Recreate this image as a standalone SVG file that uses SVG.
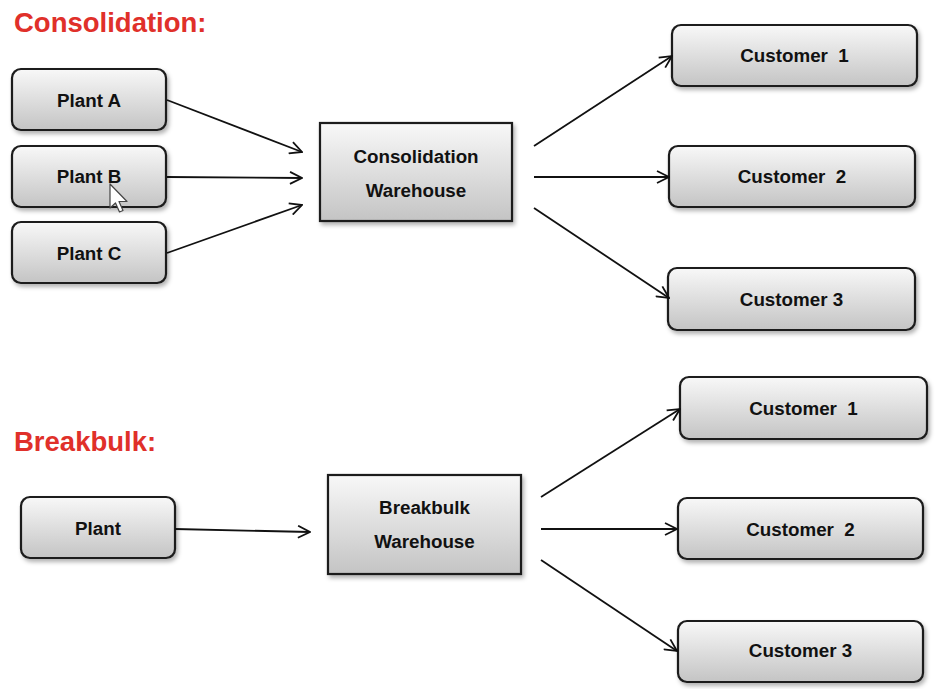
<svg xmlns="http://www.w3.org/2000/svg" width="936" height="689" viewBox="0 0 936 689">
<defs>
<linearGradient id="g" x1="0" y1="0" x2="0" y2="1">
<stop offset="0" stop-color="#f8f8f8"/>
<stop offset="1" stop-color="#c4c4c4"/>
</linearGradient>
<filter id="sh" x="-10%" y="-10%" width="130%" height="140%">
<feDropShadow dx="2" dy="3" stdDeviation="2" flood-color="#000" flood-opacity="0.3"/>
</filter>
<marker id="ah" viewBox="0 0 14 14" refX="13" refY="7" markerWidth="14" markerHeight="14" markerUnits="userSpaceOnUse" orient="auto">
<path d="M1,1 L13,7 L1,13" fill="none" stroke="#111" stroke-width="1.8" stroke-linejoin="miter"/>
</marker>
</defs>
<style>
.title{font-family:"Liberation Sans",Arial,sans-serif;font-weight:bold;font-size:27.5px;fill:#e0302a}
.box{fill:url(#g);stroke:#1a1a1a;stroke-width:2.2;filter:url(#sh)}
.lbl{font-family:"Liberation Sans",Arial,sans-serif;font-weight:bold;font-size:18.8px;fill:#111;text-anchor:middle}
.con{stroke:#111;stroke-width:1.8;fill:none;marker-end:url(#ah)}
</style>
<rect width="936" height="689" fill="#fff"/>
<text class="title" x="14" y="32">Consolidation:</text>
<text class="title" x="14" y="451">Breakbulk:</text>

<g id="plantA"><rect class="box" x="12" y="69" width="154" height="61" rx="9"/><text class="lbl" x="89" y="107">Plant A</text></g>
<g id="plantB"><rect class="box" x="12" y="146" width="154" height="61" rx="9"/><text class="lbl" x="89" y="183">Plant B</text></g>
<g id="plantC"><rect class="box" x="12" y="222" width="154" height="61" rx="9"/><text class="lbl" x="89" y="260">Plant C</text></g>
<g id="consWarehouse"><rect class="box" x="320" y="123" width="192" height="98"/><text class="lbl" x="416" y="163">Consolidation</text><text class="lbl" x="416" y="197">Warehouse</text></g>
<g id="cust1a"><rect class="box" x="672" y="25" width="245" height="61" rx="9"/><text class="lbl" x="794.5" y="62" xml:space="preserve">Customer  1</text></g>
<g id="cust2a"><rect class="box" x="669" y="146" width="246" height="61" rx="9"/><text class="lbl" x="792" y="183" xml:space="preserve">Customer  2</text></g>
<g id="cust3a"><rect class="box" x="668" y="268" width="247" height="62" rx="9"/><text class="lbl" x="791.5" y="306">Customer 3</text></g>

<g id="plant"><rect class="box" x="21" y="497" width="154" height="61" rx="9"/><text class="lbl" x="98" y="535">Plant</text></g>
<g id="bbWarehouse"><rect class="box" x="328" y="475" width="193" height="99"/><text class="lbl" x="424.5" y="514">Breakbulk</text><text class="lbl" x="424.5" y="548">Warehouse</text></g>
<g id="cust1b"><rect class="box" x="680" y="377" width="247" height="62" rx="9"/><text class="lbl" x="803.5" y="415" xml:space="preserve">Customer  1</text></g>
<g id="cust2b"><rect class="box" x="678" y="498" width="245" height="61" rx="9"/><text class="lbl" x="800.5" y="536" xml:space="preserve">Customer  2</text></g>
<g id="cust3b"><rect class="box" x="678" y="621" width="245" height="61" rx="9"/><text class="lbl" x="800.5" y="657">Customer 3</text></g>

<g id="connectors">
<line class="con" x1="167" y1="100" x2="302" y2="152"/>
<line class="con" x1="167" y1="177" x2="302" y2="178"/>
<line class="con" x1="167" y1="253" x2="302" y2="205"/>
<line class="con" x1="534" y1="146" x2="672" y2="56"/>
<line class="con" x1="534" y1="177" x2="669" y2="177"/>
<line class="con" x1="534" y1="208" x2="669" y2="298"/>
<line class="con" x1="175" y1="529" x2="310" y2="532"/>
<line class="con" x1="541" y1="497" x2="680" y2="409"/>
<line class="con" x1="541" y1="529" x2="677" y2="529"/>
<line class="con" x1="541" y1="560" x2="677" y2="651"/>
</g>

<path d="M110,184 L110,208 L115.5,203 L119.5,212 L123,210.5 L119,201.5 L127,201.5 Z" fill="#fff" stroke="#444" stroke-width="1.2" stroke-linejoin="round"/>
</svg>
